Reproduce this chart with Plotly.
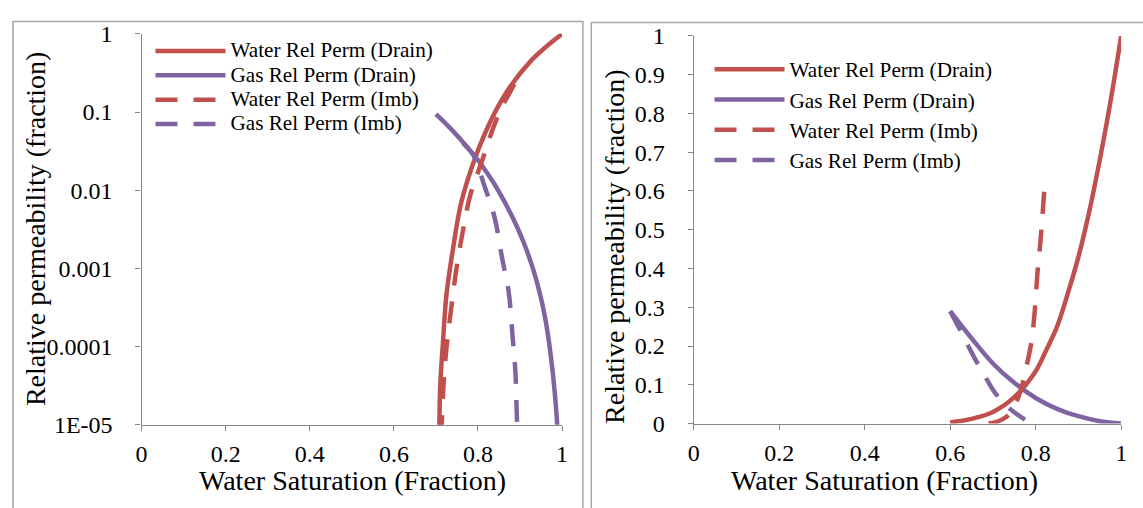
import plotly.graph_objects as go

# ---------------- data ----------------
# Left panel (log scale)
sw_l_wd = [0.705, 0.708, 0.710, 0.717, 0.725, 0.740, 0.760, 0.788, 0.8165, 0.8447, 0.8776, 0.9247, 0.9624, 1.0]
kr_l_wd = [4e-6, 1.0e-5, 3e-5, 1.2e-4, 4.6e-4, 1.7e-3, 6.9e-3, 0.0217, 0.0532, 0.110, 0.215, 0.445, 0.687, 1.0]

sw_l_gd = [0.700, 0.722, 0.744, 0.764, 0.784, 0.800, 0.815, 0.840, 0.870, 0.890, 0.908, 0.932,
           0.951, 0.965, 0.976, 0.984, 0.988, 0.991]
kr_l_gd = [0.0938, 0.0721, 0.0546, 0.0415, 0.0309, 0.0242, 0.0187, 0.01175, 0.00607, 0.00368, 0.00219,
           0.000946, 0.000391, 0.000158, 0.0000565, 0.0000208, 0.0000107, 0.000004]

sw_l_wi = [0.712, 0.714, 0.718, 0.725, 0.736, 0.748, 0.763, 0.781, 0.810, 0.840, 0.862, 0.885, 0.896]
kr_l_wi = [7e-6, 1.1e-5, 3.2e-5, 9.6e-5, 3e-4, 9.3e-4, 0.0028, 0.0084, 0.024, 0.071, 0.13, 0.22, 0.29]

sw_l_gi = [0.764, 0.791, 0.815, 0.839, 0.858, 0.873, 0.882, 0.889, 0.892, 0.894]
kr_l_gi = [0.040, 0.027, 0.0115, 0.0046, 0.0013, 0.0005, 0.00014, 0.000047, 0.000015, 0.000007]

# Right panel (linear scale)
sw_r_wd = [0.600, 0.650, 0.700, 0.750, 0.800, 0.825, 0.850, 0.875, 0.900, 0.925, 0.950, 0.975, 1.000]
kr_r_wd = [0.003, 0.012, 0.030, 0.068, 0.135, 0.190, 0.250, 0.335, 0.430, 0.545, 0.680, 0.830, 1.000]

sw_r_gd = [0.600, 0.650, 0.700, 0.750, 0.800, 0.850, 0.900, 0.950, 1.000]
kr_r_gd = [0.290, 0.220, 0.155, 0.105, 0.066, 0.038, 0.019, 0.006, 0.000]

sw_r_wi = [0.690, 0.710, 0.730, 0.750, 0.765, 0.780, 0.790, 0.797, 0.805, 0.812, 0.820]
kr_r_wi = [0.0, 0.005, 0.016, 0.045, 0.085, 0.155, 0.21, 0.28, 0.40, 0.48, 0.60]

sw_r_gi = [0.600, 0.620, 0.640, 0.660, 0.685, 0.706, 0.740, 0.775]
kr_r_gi = [0.290, 0.248, 0.205, 0.163, 0.115, 0.078, 0.038, 0.010]

series_names = ["Water Rel Perm (Drain)", "Gas Rel Perm (Drain)",
                "Water Rel Perm (Imb)", "Gas Rel Perm (Imb)"]

x_tickvals = [0, 0.2, 0.4, 0.6, 0.8, 1]
x_ticktext = ["0", "0.2", "0.4", "0.6", "0.8", "1"]
yl_tickvals = [1, 0.1, 0.01, 0.001, 0.0001, 0.00001]
yl_ticktext = ["1", "0.1", "0.01", "0.001", "0.0001", "1E-05"]
yr_tickvals = [0, 0.1, 0.2, 0.3, 0.4, 0.5, 0.6, 0.7, 0.8, 0.9, 1]
yr_ticktext = ["0", "0.1", "0.2", "0.3", "0.4", "0.5", "0.6", "0.7", "0.8", "0.9", "1"]

x_title = "Water Saturation (Fraction)"
y_title = "Relative permeability (fraction)"

# ---------------- styling ----------------
RED = "#C0504D"
PURPLE = "#8064A2"
LW = 4.5
DASH = "22px,16px"
FONT = "Liberation Serif"
AXC = "#868686"
W, H = 1143, 508

left_sets = [(sw_l_wd, kr_l_wd, RED, "solid"), (sw_l_gd, kr_l_gd, PURPLE, "solid"),
             (sw_l_wi, kr_l_wi, RED, DASH), (sw_l_gi, kr_l_gi, PURPLE, DASH)]
right_sets = [(sw_r_wd, kr_r_wd, RED, "solid"), (sw_r_gd, kr_r_gd, PURPLE, "solid"),
              (sw_r_wi, kr_r_wi, RED, DASH), (sw_r_gi, kr_r_gi, PURPLE, DASH)]

fig = go.Figure()
for name, (x, y, c, d) in zip(series_names, left_sets):
    fig.add_trace(go.Scatter(x=x, y=y, mode="lines", xaxis="x", yaxis="y",
                             name='<span style="font-size:21.2px">' + name + '</span>',
                             legend="legend",
                             line=dict(color=c, width=LW, dash=d, shape="spline", smoothing=1.0)))
for name, (x, y, c, d) in zip(series_names, right_sets):
    fig.add_trace(go.Scatter(x=x, y=y, mode="lines", xaxis="x2", yaxis="y2",
                             name='<span style="font-size:21.2px">' + name + '</span>',
                             legend="legend2",
                             line=dict(color=c, width=LW, dash=d, shape="spline", smoothing=1.0)))

def px_x(p):
    return p / W

def px_y(p):
    return 1 - p / H

def axis_style(standoff):
    return dict(showgrid=False, zeroline=False, showline=True, linecolor=AXC, linewidth=1.3,
                ticks="outside", ticklen=5, tickcolor=AXC, tickwidth=1.3,
                tickfont=dict(family=FONT, size=24, color="black"), ticklabelstandoff=standoff)

fig.update_layout(
    width=W, height=H, margin=dict(l=0, r=0, t=0, b=0),
    paper_bgcolor="white", plot_bgcolor="white",
    xaxis=dict(domain=[px_x(137), px_x(562)], range=[0, 1], tickvals=x_tickvals, ticktext=x_ticktext,
               anchor="y", **axis_style(2)),
    yaxis=dict(domain=[px_y(434), px_y(22)], type="log", range=[-5, 0], tickvals=yl_tickvals,
               ticktext=yl_ticktext, anchor="x", **axis_style(18)),
    xaxis2=dict(domain=[px_x(695), px_x(1127)], range=[0, 1], tickvals=x_tickvals, ticktext=x_ticktext,
                anchor="y2", **axis_style(2)),
    yaxis2=dict(domain=[px_y(432.7), px_y(24)], range=[0, 1], tickvals=yr_tickvals, ticktext=yr_ticktext,
                anchor="x2", **axis_style(18)),
    legend=dict(x=px_x(146), y=px_y(22), xanchor="left", yanchor="top", bgcolor="rgba(0,0,0,0)",
                font=dict(family=FONT, size=16.4, color="black"), itemwidth=70, tracegroupgap=0),
    legend2=dict(x=px_x(711), y=px_y(38), xanchor="left", yanchor="top", bgcolor="rgba(0,0,0,0)",
                 font=dict(family=FONT, size=21, color="black"), itemwidth=70, tracegroupgap=0),
    showlegend=True,
)

# axis titles
title_font = dict(family=FONT, size=28, color="black")
fig.add_annotation(text=y_title, x=px_x(30), y=px_y(227), xref="paper", yref="paper",
                   textangle=-90, showarrow=False, font=title_font, xanchor="center", yanchor="middle")
fig.add_annotation(text=y_title, x=px_x(615), y=px_y(246), xref="paper", yref="paper",
                   textangle=-90, showarrow=False, font=title_font, xanchor="center", yanchor="middle")
fig.add_annotation(text=x_title, x=px_x(350), y=px_y(493), xref="paper", yref="paper",
                   showarrow=False, font=title_font, xanchor="center", yanchor="middle")
fig.add_annotation(text=x_title, x=px_x(888), y=px_y(493), xref="paper", yref="paper",
                   showarrow=False, font=title_font, xanchor="center", yanchor="middle")

# panel frames
frame = dict(color="#A6A6A6", width=1.5)
fig.add_shape(type="rect", xref="paper", yref="paper", x0=px_x(7), x1=px_x(583),
              y0=px_y(560), y1=px_y(9), line=frame, layer="below")
fig.add_shape(type="rect", xref="paper", yref="paper", x0=px_x(591.5), x1=px_x(1160),
              y0=px_y(560), y1=px_y(10), line=frame, layer="below")

fig.write_html("out.html", config={"displayModeBar": False},
               post_script="document.body.style.margin='0px';document.body.style.overflow='hidden';")
